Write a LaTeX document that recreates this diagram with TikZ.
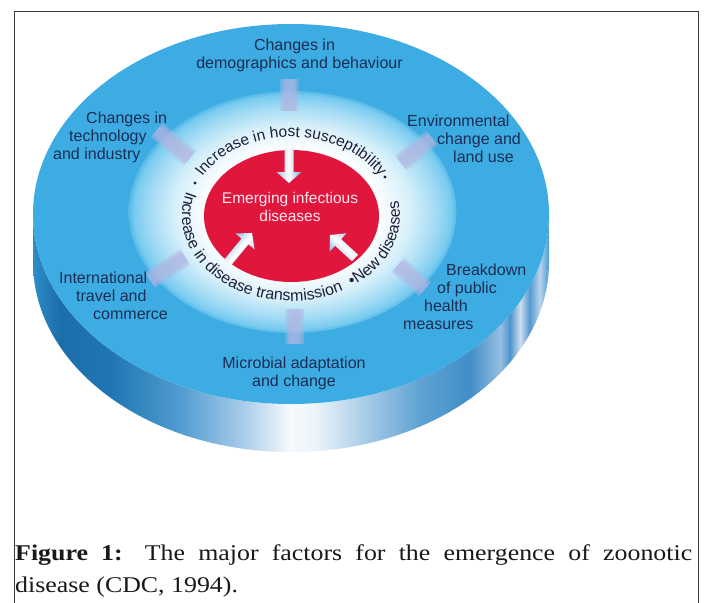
\documentclass[tikz,border=0pt]{standalone}
\usepackage{fontspec}
\usetikzlibrary{calc,decorations.text}
\newfontfamily\labfont{Liberation Sans}
\newfontfamily\capfont[FakeStretch=1.15]{Liberation Serif}

\definecolor{diskblue}{RGB}{60,172,226}
\definecolor{corered}{RGB}{224,22,60}
\definecolor{labelnavy}{RGB}{28,45,85}
\definecolor{ringtext}{RGB}{30,32,55}
\definecolor{arrowblue}{RGB}{118,172,224}
\definecolor{ghost}{RGB}{178,182,226}
\definecolor{framegray}{RGB}{60,60,60}
\definecolor{corelabel}{RGB}{250,232,238}
\definecolor{captext}{RGB}{25,25,25}

% side wall of the disc: dark on the left, bright reflection at the front, stripes on the right
\pgfdeclarehorizontalshading{sideshade}{100bp}{%
  rgb(0bp)=(0.176,0.549,0.784); rgb(25bp)=(0.176,0.549,0.784);
  rgb(27.6bp)=(0.110,0.431,0.667); rgb(32.5bp)=(0.125,0.463,0.698);
  rgb(39.2bp)=(0.314,0.608,0.816); rgb(45.1bp)=(0.647,0.792,0.910);
  rgb(49.9bp)=(0.965,0.976,0.988); rgb(52.3bp)=(0.925,0.957,0.980);
  rgb(56.7bp)=(0.686,0.816,0.914); rgb(62.5bp)=(0.373,0.635,0.824);
  rgb(67.3bp)=(0.255,0.557,0.784); rgb(70.3bp)=(0.588,0.745,0.882);
  rgb(71.2bp)=(0.294,0.580,0.804); rgb(72.2bp)=(0.804,0.871,0.933);
  rgb(73.1bp)=(0.333,0.596,0.812); rgb(74.1bp)=(0.725,0.831,0.922);
  rgb(75bp)=(0.275,0.608,0.831); rgb(100bp)=(0.275,0.608,0.831)}

% pale glow around the core
\pgfdeclareradialshading{glow}{\pgfpointorigin}{%
  rgb(0bp)=(1,1,1); rgb(13bp)=(1,1,1);
  rgb(18bp)=(0.843,0.941,0.980); rgb(22bp)=(0.627,0.855,0.957);
  rgb(24.2bp)=(0.471,0.796,0.941); rgb(25bp)=(0.333,0.725,0.910);
  rgb(50bp)=(0.333,0.725,0.910)}

\begin{document}
\begin{tikzpicture}[x=1pt,y=-1pt,
  lab/.style={font=\labfont\fontsize{16}{18}\selectfont, text=labelnavy, inner sep=0pt, anchor=base west},
  labc/.style={lab, anchor=base},
  coretext/.style={font=\labfont\fontsize{15.5}{18}\selectfont, text=corelabel, inner sep=0pt, anchor=base},
  capstyle/.style={font=\capfont\fontsize{22.5}{26}\selectfont, text=captext, inner sep=0pt, anchor=base west},
  ghostbar/.style={fill=ghost, fill opacity=0.32},
  fatarrow/.style={left color=arrowblue, right color=arrowblue!70, middle color=white},
  ringdot/.style={fill=ringtext, circle, inner sep=0pt, minimum size=3.2pt}
]
\useasboundingbox (0,0) rectangle (705,603);
\fill[white] (0,0) rectangle (705,603);

% open frame
\draw[framegray, line width=0.9pt] (14,603) -- (14,11) -- (698,11) -- (698,603);

% disc: side wall, top face, glow, core
\shade[shading=sideshade] (33,214)
  arc[start angle=180, end angle=0, x radius=258, y radius=190] -- (549,262)
  arc[start angle=0, end angle=180, x radius=258, y radius=190] -- cycle;
\fill[diskblue] (291,214) ellipse[x radius=258, y radius=190];
\shade[shading=glow] (292.5,212) ellipse[x radius=164, y radius=121];

% soft bars from the outer factors towards the centre (layered for a blurred edge)
\foreach \ax/\ay/\bx/\by in {289/79/289/111, 157/130/190/158, 432/138/401/163,
                             150/280/185/257, 425/289/398/265, 294.5/344/294.5/309}{
  \coordinate (ga) at (\ax,\ay);
  \coordinate (gb) at (\bx,\by);
  \foreach \w in {9.5,8,6.5,4.5}{
    \fill[ghostbar] ($(ga)!\w pt!90:(gb)$) -- ($(gb)!\w pt!-90:(ga)$)
      -- ($(gb)!\w pt!90:(ga)$) -- ($(ga)!\w pt!-90:(gb)$) -- cycle;
  }
}

\fill[corered] (291.5,216) ellipse[x radius=87.5, y radius=66];
\node[coretext] (core1) at (290,203) {Emerging infectious};
\node[coretext] (core2) at (290,221) {diseases};

% three arrows into the core
\foreach \ax/\ay/\bx/\by/\ang [count=\i] in {289/148/289/183/-90, 228/262/252/233/50, 355/258/330/235/137}{
  \coordinate (aa\i) at (\ax,\ay);
  \coordinate (ab\i) at (\bx,\by);
  \coordinate (ah\i) at ($(ab\i)!11pt!(aa\i)$);
  \shade[fatarrow, shading angle=\ang]
    ($(aa\i)!4.5pt!90:(ab\i)$) -- ($(ah\i)!4.5pt!90:(ab\i)$) -- ($(ah\i)!12.5pt!90:(ab\i)$)
    -- (ab\i) -- ($(ah\i)!12.5pt!-90:(ab\i)$) -- ($(ah\i)!4.5pt!-90:(ab\i)$)
    -- ($(aa\i)!4.5pt!-90:(ab\i)$) -- cycle;
}

% ring of text around the core
\path[decorate, decoration={text along path, text align=center, text color=ringtext,
   text={|\labfont\fontsize{15.5}{16}\selectfont|Increase in host susceptibility}}]
  (291,216) ++(-165:102 and 79) arc[start angle=-165, end angle=-15, x radius=102, y radius=79];
\path[decorate, decoration={text along path, text color=ringtext,
   text={|\labfont\fontsize{16}{16}\selectfont|Increase in disease transmission}}]
  (291,216) ++(-163:109 and 85) arc[start angle=-163, end angle=-315, x radius=109, y radius=85];
\path[decorate, decoration={text along path, text color=ringtext,
   text={|\labfont\fontsize{16}{16}\selectfont|•New diseases}}]
  (291,216) ++(-304:109 and 85) arc[start angle=-304, end angle=-400, x radius=109, y radius=85];
\node[ringdot] (dotl) at (195,183) {};
\node[ringdot] (dotr) at (385,177) {};

% factor labels
\node[labc] (demo1) at (294.5,50) {Changes in};
\node[labc] (demo2) at (299.5,68) {demographics and behaviour};
\node[lab] (tech1) at (86,123) {Changes in};
\node[lab] (tech2) at (69,141) {technology};
\node[lab] (tech3) at (53,159) {and industry};
\node[lab] (env1) at (407,126) {Environmental};
\node[lab] (env2) at (437,144) {change and};
\node[lab] (env3) at (453,162) {land use};
\node[lab] (intl1) at (59,283) {International};
\node[lab] (intl2) at (76,301) {travel and};
\node[lab] (intl3) at (93,319) {commerce};
\node[lab] (brk1) at (446,275) {Breakdown};
\node[lab] (brk2) at (437,293) {of public};
\node[lab] (brk3) at (424,311) {health};
\node[lab] (brk4) at (403,329) {measures};
\node[labc] (mic1) at (294,368) {Microbial adaptation};
\node[labc] (mic2) at (294,386) {and change};

% caption
\node[capstyle] (cap1) at (15,560)
  {\makebox[677pt][s]{\textbf{Figure 1:} The major factors for the emergence of zoonotic}};
\node[capstyle] (cap2) at (15,592) {disease (CDC, 1994).};
\end{tikzpicture}
\end{document}
